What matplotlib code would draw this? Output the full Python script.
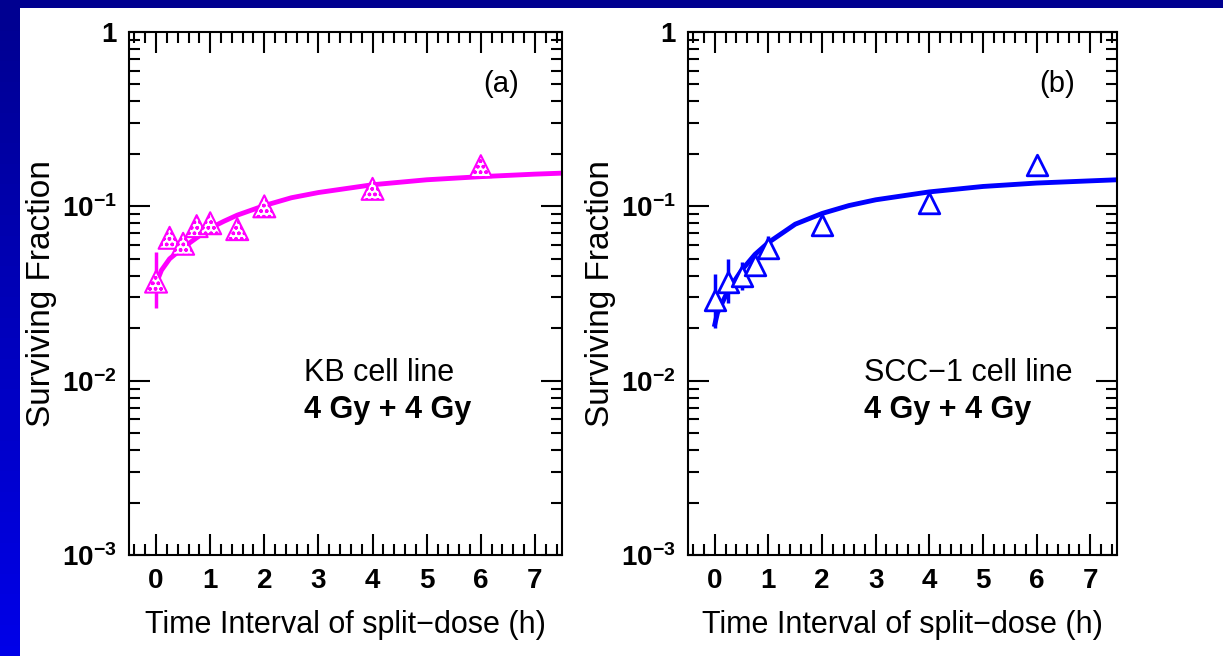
# Split-dose recovery curves, KB and SCC-1 cell lines
import numpy as np
import matplotlib.pyplot as plt
from matplotlib import font_manager
from matplotlib.colors import LinearSegmentedColormap
from matplotlib.ticker import FixedLocator, MultipleLocator, NullFormatter

# --- data ---
kb_t = [0, 0.25, 0.5, 0.75, 1.0, 1.5, 2.0, 4.0, 6.0]
kb_sf = [0.037, 0.066, 0.061, 0.077, 0.080, 0.074, 0.100, 0.126, 0.170]
kb_err_t = [0]
kb_err_lo = [0.026]
kb_err_hi = [0.055]
kb_fit_t = [0, 0.1, 0.25, 0.5, 0.75, 1.0, 1.25, 1.5, 2.0, 2.5, 3.0, 4.0, 5.0, 6.0, 7.0, 7.5]
kb_fit_sf = [0.036, 0.043, 0.050, 0.058, 0.066, 0.075, 0.082, 0.089, 0.101, 0.112,
             0.120, 0.133, 0.142, 0.148, 0.153, 0.155]

scc_t = [0, 0.25, 0.5, 0.75, 1.0, 2.0, 4.0, 6.0]
scc_sf = [0.029, 0.037, 0.040, 0.046, 0.058, 0.078, 0.104, 0.172]
scc_err_t = [0, 0.25, 0.5, 0.75, 1.0]
scc_err_lo = [0.020, 0.028, 0.033, 0.040, 0.050]
scc_err_hi = [0.041, 0.050, 0.048, 0.053, 0.068]
scc_fit_t = [0, 0.05, 0.25, 0.5, 0.75, 1.0, 1.5, 2.0, 2.5, 3.0, 4.0, 5.0, 6.0, 7.0, 7.5]
scc_fit_sf = [0.021, 0.0245, 0.033, 0.043, 0.053, 0.062, 0.079, 0.091, 0.101, 0.109,
              0.121, 0.130, 0.136, 0.140, 0.142]

x_ticks = [0, 1, 2, 3, 4, 5, 6, 7]
y_ticks = [1e-3, 1e-2, 1e-1, 1]
y_labels = [r"$10^{-3}$", r"$10^{-2}$", r"$10^{-1}$", "1"]

# narrow font if we have it
names = {f.name for f in font_manager.fontManager.ttflist}
FONT = "Liberation Sans Narrow" if "Liberation Sans Narrow" in names else "Liberation Sans"
plt.rcParams["font.family"] = [FONT, "DejaVu Sans"]
plt.rcParams["mathtext.fontset"] = "custom"
plt.rcParams["mathtext.rm"] = FONT
plt.rcParams["mathtext.it"] = FONT
plt.rcParams["mathtext.bf"] = FONT + ":bold"
plt.rcParams["mathtext.default"] = "bf"

fig = plt.figure(figsize=(12.23, 6.56), dpi=100)
fig.patch.set_facecolor("white")

# slide border: dark top bar, blue strip on the left
bg = fig.add_axes([0, 0, 1, 1], zorder=-10)
bg.set_xlim(0, 1223)
bg.set_ylim(656, 0)
bg.axis("off")
cmap = LinearSegmentedColormap.from_list("slide", ["#000090", "#0000e8"])
bg.imshow(np.linspace(0, 1, 64).reshape(-1, 1), cmap=cmap, aspect="auto",
          extent=[0, 20, 656, 0])
bg.fill_between([0, 1223], 0, 8, color="#000090", lw=0)


def style_axes(ax):
    ax.set_yscale("log")
    ax.set_xlim(-0.5, 7.5)
    ax.set_ylim(1e-3, 1)
    ax.xaxis.set_major_locator(FixedLocator(x_ticks))
    ax.xaxis.set_minor_locator(MultipleLocator(0.2))
    ax.set_xticklabels([str(t) for t in x_ticks])
    ax.yaxis.set_major_locator(FixedLocator(y_ticks))
    ax.set_yticklabels(y_labels)
    ax.yaxis.set_minor_formatter(NullFormatter())
    ax.tick_params(which="both", direction="in", top=True, right=True, width=1.5,
                   labelsize=20)
    ax.tick_params(which="major", length=15, pad=9)
    ax.tick_params(which="minor", length=8)
    for lab in ax.get_xticklabels() + ax.get_yticklabels():
        lab.set_fontweight("bold")
    for s in ax.spines.values():
        s.set_linewidth(1.5)
    ax.set_xlabel("Time Interval of split\u2212dose (h)", fontsize=22, labelpad=12)
    ax.set_ylabel("Surviving Fraction", fontsize=24, labelpad=3)


# (a) KB
ax1 = fig.add_axes([129 / 1223, 1 - 555 / 656, 433 / 1223, 523 / 656])
style_axes(ax1)
ax1.plot(kb_fit_t, kb_fit_sf, color="#ff00ff", lw=3.5, zorder=2)
ax1.vlines(kb_err_t, kb_err_lo, kb_err_hi, color="#ff00ff", lw=2.5)
ax1.scatter(kb_t, kb_sf, marker="^", s=250, facecolor="white", edgecolor="#ff00ff",
            hatch="ooo", linewidth=1.5, zorder=3)
ax1.text(0.86, 0.9, "(a)", transform=ax1.transAxes, fontsize=21, ha="center", va="center")
ax1.text(0.405, 0.348, "KB cell line", transform=ax1.transAxes, fontsize=22, va="center")
ax1.text(0.405, 0.277, "4 Gy + 4 Gy", transform=ax1.transAxes, fontsize=22,
         fontweight="bold", va="center")

# (b) SCC-1
ax2 = fig.add_axes([688 / 1223, 1 - 555 / 656, 429 / 1223, 523 / 656])
style_axes(ax2)
ax2.plot(scc_fit_t, scc_fit_sf, color="#0000ff", lw=3.5, zorder=2)
ax2.vlines(scc_err_t, scc_err_lo, scc_err_hi, color="#0000ff", lw=2.5)
ax2.scatter(scc_t, scc_sf, marker="^", s=220, facecolor="white", edgecolor="#0000ff",
            linewidth=2, zorder=3)
ax2.text(0.86, 0.9, "(b)", transform=ax2.transAxes, fontsize=21, ha="center", va="center")
ax2.text(0.41, 0.348, "SCC\u22121 cell line", transform=ax2.transAxes, fontsize=22,
         va="center")
ax2.text(0.41, 0.277, "4 Gy + 4 Gy", transform=ax2.transAxes, fontsize=22,
         fontweight="bold", va="center")

fig.savefig("out.png", dpi=100)
